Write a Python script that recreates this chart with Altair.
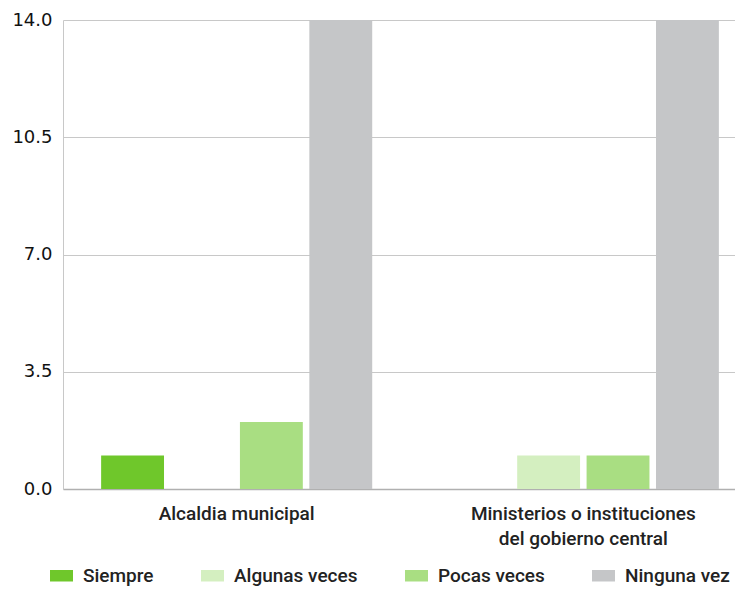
import altair as alt
import pandas as pd

groups = ["Alcaldia municipal", "Ministerios o instituciones|del gobierno central"]
series = ["Siempre", "Algunas veces", "Pocas veces", "Ninguna vez"]
colors = ["#6fc72b", "#d4efc0", "#a9de82", "#c5c6c8"]
values = {
    "Siempre": [1, 0],
    "Algunas veces": [0, 1],
    "Pocas veces": [2, 1],
    "Ninguna vez": [14, 14],
}

rows = []
for s in series:
    for g, v in zip(groups, values[s]):
        rows.append({"grupo": g, "serie": s, "valor": v})
df = pd.DataFrame(rows)

font = "Roboto"

chart = alt.Chart(df).mark_bar(clip=True).encode(
    x=alt.X("grupo:N", sort=groups, title=None,
            scale=alt.Scale(paddingInner=0.218, paddingOuter=0.11, range=[0, 694]),
            axis=alt.Axis(labelAngle=0, ticks=False, grid=False, domainColor="#b0b0b0", domainWidth=1.5,
                          labelFont=font, labelFontSize=19, labelFontWeight=500,
                          labelColor="#222", labelPadding=15, labelLineHeight=25,
                          labelExpr="split(datum.label, '|')", labelLimit=400)),
    xOffset=alt.XOffset("serie:N", sort=series,
                        scale=alt.Scale(paddingInner=0.094, paddingOuter=0)),
    y=alt.Y("valor:Q", title=None,
            scale=alt.Scale(domain=[0, 14], nice=False),
            axis=alt.Axis(values=[0, 3.5, 7, 10.5, 14], format=".1f", ticks=False,
                          domainColor="#c8c8c8", gridColor="#c8c8c8",
                          labelFont="DejaVu Sans", labelFontSize=18, labelColor="#111",
                          labelPadding=11)),
    color=alt.Color("serie:N", sort=series, title=None,
                    scale=alt.Scale(domain=series, range=colors),
                    legend=alt.Legend(orient="none", direction="horizontal",
                                      legendX=-13, legendY=544,
                                      symbolType="M-1,-0.5H1V0.5H-1Z", symbolSize=529,
                                      symbolStrokeWidth=0, symbolOpacity=1,
                                      labelFont=font, labelFontSize=19, labelFontWeight=500,
                                      labelColor="#222", columnPadding=47, labelOffset=10)),
).properties(
    width=672, height=469,
    autosize=alt.AutoSizeParams(type="none"),
    padding={"left": 55, "top": 12, "right": 0, "bottom": 97},
).configure_view(stroke=None)

chart.save("out.html", embed_options={"renderer": "svg", "actions": False})
